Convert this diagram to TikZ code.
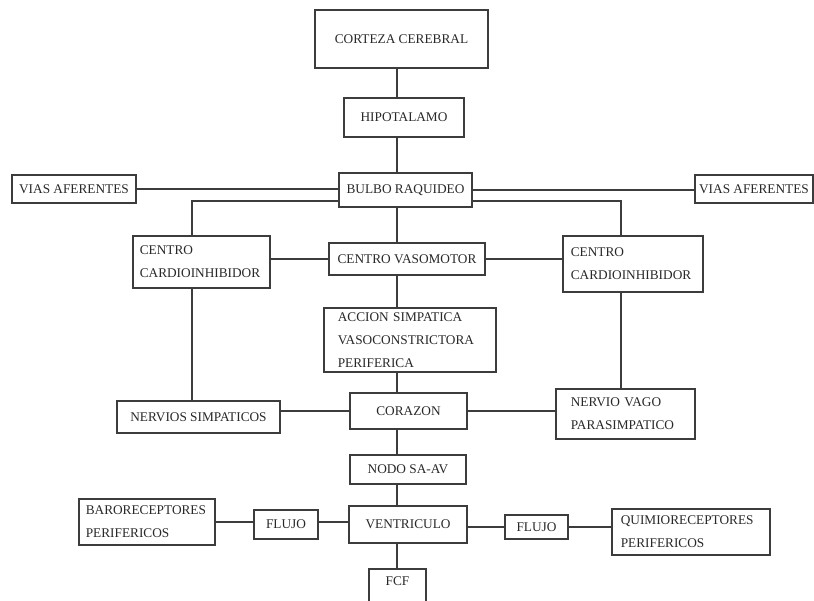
\documentclass[tikz,border=0pt]{standalone}
\usepackage{fontspec}
\setmainfont{Liberation Serif}
\definecolor{lc}{RGB}{60,60,60}
\definecolor{tc}{RGB}{40,40,40}
\tikzset{
  bx/.style={draw=lc, line width=1.6bp, inner sep=0pt, text=tc,
    font=\fontsize{13.3bp}{23bp}\selectfont, align=center},
  bxl/.style={bx, anchor=north west, align=left},
  ln/.style={draw=lc, line width=1.6bp}
}
\begin{document}
\begin{tikzpicture}[x=1bp,y=-1bp]
\useasboundingbox (0,0) rectangle (814,601);
\clip (0,0) rectangle (814,601);
\coordinate (spine) at (397,0);
\coordinate (lx) at (192,0);
\coordinate (rx) at (621,0);
\coordinate (ly) at (0,522);

% boxes
\node[bx, minimum width=173bp, minimum height=58bp] (cortex) at (401.5,39) {CORTEZA CEREBRAL};
\node[bx, minimum width=120bp, minimum height=39bp] (hipo) at (404,117.5) {HIPOTALAMO};
\node[bx, minimum width=133bp, minimum height=34bp] (bulbo) at (405.5,190) {BULBO RAQUIDEO};
\node[bx, minimum width=124bp, minimum height=28bp] (viasL) at (74,189) {VIAS AFERENTES};
\node[bx, minimum width=118bp, minimum height=28bp] (viasR) at (754,189) {VIAS AFERENTES};
\node[bxl, minimum width=137bp, minimum height=52bp, text width=123bp, inner xsep=7bp] (cardL) at (132,235) {CENTRO\\CARDIOINHIBIDOR};
\node[bx, minimum width=156bp, minimum height=32bp] (vaso) at (407,259) {CENTRO VASOMOTOR};
\node[bxl, minimum width=140bp, minimum height=56bp, text width=124bp, inner xsep=8bp] (cardR) at (562,235) {CENTRO\\CARDIOINHIBIDOR};
\node[bxl, minimum width=172bp, minimum height=64bp, text width=144bp, inner xsep=14bp] (accion) at (323,307) {ACCION SIMPATICA\\VASOCONSTRICTORA\\PERIFERICA};
\node[bx, minimum width=117bp, minimum height=36bp] (corazon) at (408.5,411) {CORAZON};
\node[bx, minimum width=163bp, minimum height=32bp] (nervios) at (198.5,417) {NERVIOS SIMPATICOS};
\node[bxl, minimum width=139bp, minimum height=50bp, text width=109bp, inner xsep=15bp] (vago) at (555,388) {NERVIO VAGO\\PARASIMPATICO};
\node[bx, minimum width=116bp, minimum height=29bp] (nodo) at (408,469.5) {NODO SA-AV};
\node[bx, minimum width=118bp, minimum height=37bp] (ventr) at (408,524.5) {VENTRICULO};
\node[bx, minimum width=64bp, minimum height=29bp] (flujoL) at (286,524.5) {FLUJO};
\node[bxl, minimum width=136bp, minimum height=46bp, text width=122bp, inner xsep=7bp] (baro) at (78,498) {BARORECEPTORES\\PERIFERICOS};
\node[bx, minimum width=63bp, minimum height=24bp] (flujoR) at (536.5,527) {FLUJO};
\node[bxl, minimum width=158bp, minimum height=46bp, text width=140bp, inner xsep=9bp] (quimio) at (611,508) {QUIMIORECEPTORES\\PERIFERICOS};
\node[bx, minimum width=57bp, minimum height=60bp, anchor=north, text depth=36bp] (fcf) at (397.5,568) {FCF};

% connectors
\draw[ln] (cortex.south -| spine) -- (hipo.north -| spine);
\draw[ln] (hipo.south -| spine) -- (bulbo.north -| spine);
\draw[ln] (viasL.east) -- (viasL.east -| bulbo.west);
\draw[ln] (bulbo.east) -- (bulbo.east -| viasR.west);
\draw[ln] ([yshift=-11bp]bulbo.west) -| (cardL.north -| lx);
\draw[ln] ([yshift=-11bp]bulbo.east) -| (cardR.north -| rx);
\draw[ln] (bulbo.south -| spine) -- (vaso.north -| spine);
\draw[ln] (vaso.west -| cardL.east) -- (vaso.west);
\draw[ln] (vaso.east) -- (vaso.east -| cardR.west);
\draw[ln] (vaso.south -| spine) -- (accion.north -| spine);
\draw[ln] (accion.south -| spine) -- (corazon.north -| spine);
\draw[ln] (cardL.south -| lx) -- (nervios.north -| lx);
\draw[ln] (corazon.west -| nervios.east) -- (corazon.west);
\draw[ln] (corazon.east) -- (corazon.east -| vago.west);
\draw[ln] (cardR.south -| rx) -- (vago.north -| rx);
\draw[ln] (corazon.south -| spine) -- (nodo.north -| spine);
\draw[ln] (nodo.south -| spine) -- (ventr.north -| spine);
\draw[ln] (ventr.south -| spine) -- (fcf.north -| spine);
\draw[ln] (baro.east |- ly) -- (flujoL.west |- ly);
\draw[ln] (flujoL.east |- ly) -- (ventr.west |- ly);
\draw[ln] (ventr.east |- flujoR) -- (flujoR.west);
\draw[ln] (flujoR.east) -- (flujoR.east -| quimio.west);
\end{tikzpicture}
\end{document}
